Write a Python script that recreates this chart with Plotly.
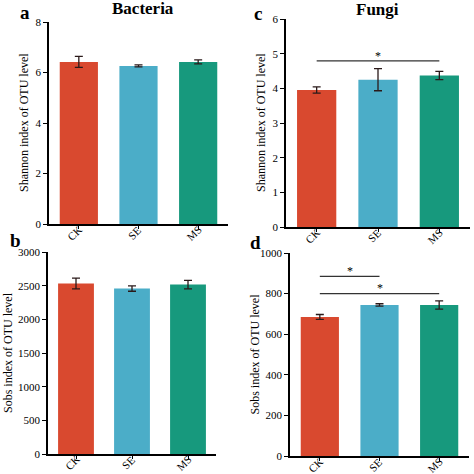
import plotly.graph_objects as go

categories = ["CK", "SE", "MS"]
colors = ["#D9492F", "#4BADC8", "#17997D"]

shannon_bac = [6.42, 6.26, 6.42]
shannon_bac_err = [0.22, 0.04, 0.08]
shannon_fun = [3.95, 4.25, 4.37]
shannon_fun_err = [0.09, 0.32, 0.12]
sobs_bac = [2531, 2457, 2516]
sobs_bac_err = [80, 40, 64]
sobs_fun = [685, 744, 744]
sobs_fun_err = [12, 6, 20]

H = 474.0
def dom_x(a, b):
    return [a / H, b / H]
def dom_y(bottom_px, top_px):
    return [1 - bottom_px / H, 1 - top_px / H]

panels = [
    # (values, errors, xaxis-id, yaxis-id, xdomain, ydomain, yrange, dtick, ytitle, title x px)
    (shannon_bac, shannon_bac_err, "x", "y", dom_x(49, 228), dom_y(224, 22), [0, 8], 2, "Shannon index of OTU level", 24),
    (shannon_fun, shannon_fun_err, "x2", "y2", dom_x(286, 470), dom_y(227, 19), [0, 6], 1, "Shannon index of OTU level", 261),
    (sobs_bac, sobs_bac_err, "x3", "y3", dom_x(48, 216), dom_y(454, 252), [0, 3000], 500, "Sobs index of OTU level", 8),
    (sobs_fun, sobs_fun_err, "x4", "y4", dom_x(290, 469), dom_y(456, 253), [0, 1000], 200, "Sobs index of OTU level", 254),
]

fig = go.Figure()
font_family = "Liberation Serif, Times New Roman, serif"
layout = dict(
    width=474, height=474,
    margin=dict(l=0, r=0, t=0, b=0, autoexpand=False),
    paper_bgcolor="white", plot_bgcolor="white",
    showlegend=False,
    font=dict(family=font_family, color="black", size=11),
)

for vals, errs, xa, ya, xd, yd, yr, dt, ytitle, tx in panels:
    fig.add_trace(go.Bar(
        x=categories, y=vals, marker=dict(color=colors, line=dict(width=0)),
        width=0.64, xaxis=xa, yaxis=ya,
        error_y=dict(type="data", array=errs, visible=True, color="#2a1a1a", thickness=1.3, width=4),
    ))
    xkey = "xaxis" + xa[1:]
    ykey = "yaxis" + ya[1:]
    layout[xkey] = dict(
        domain=xd, anchor=ya, range=[-0.5, 2.5], showgrid=False, zeroline=False,
        automargin=False,
        showline=True, linecolor="black", linewidth=1.5,
        ticks="outside", ticklen=3, tickwidth=1.2, tickcolor="black",
        showticklabels=False,
    )
    layout[ykey] = dict(
        domain=yd, anchor=xa, range=yr, dtick=dt, showgrid=False, zeroline=False,
        automargin=False,
        showline=True, linecolor="black", linewidth=1.5,
        ticks="outside", ticklen=4, tickwidth=1.2, tickcolor="black",
        tickfont=dict(size=11, family=font_family),
    )
    # y-axis title
    fig.add_annotation(xref="paper", yref="paper", x=tx / H, y=(yd[0] + yd[1]) / 2, text=ytitle,
                       showarrow=False, textangle=-90, xanchor="center", yanchor="middle",
                       font=dict(size=12, family=font_family, color="black"))
    # rotated category labels under each bar
    for c in categories:
        fig.add_annotation(xref=xa, yref="paper", x=c, y=yd[0], text=c, showarrow=False,
                           textangle=-45, xanchor="center", yanchor="middle",
                           xshift=-4, yshift=-9,
                           font=dict(size=11, family=font_family, color="black"))

fig.update_layout(**layout)

# significance lines
sig = [
    ("x2", "y2", 0, 2, 4.79, 4.92),
    ("x4", "y4", 0, 1, 885, 912),
    ("x4", "y4", 0, 2, 800, 827),
]
for xa, ya, i0, i1, yline, ystar in sig:
    fig.add_shape(type="line", xref=xa, yref=ya, x0=i0, x1=i1, y0=yline, y1=yline,
                  line=dict(color="#333333", width=1.3))
    fig.add_annotation(xref=xa, yref=ya, x=(i0 + i1) / 2, y=ystar, text="*", showarrow=False,
                       font=dict(size=12, family=font_family, color="black"))

# titles and panel letters
texts = [
    ("Bacteria", 143, 9, 17),
    ("Fungi", 377, 10, 17),
    ("a", 25, 12, 19),
    ("c", 258, 14, 19),
    ("b", 15, 240, 19),
    ("d", 255, 242, 19),
]
for t, x, y, s in texts:
    fig.add_annotation(xref="paper", yref="paper", x=x / H, y=1 - y / H, text="<b>" + t + "</b>",
                       showarrow=False, xanchor="center", yanchor="middle",
                       font=dict(size=s, family=font_family, color="black"))

fig.write_html(
    "out.html",
    config={"displayModeBar": False},
    post_script="document.body.style.margin='0';document.body.style.padding='0';document.body.style.overflow='hidden';",
)
